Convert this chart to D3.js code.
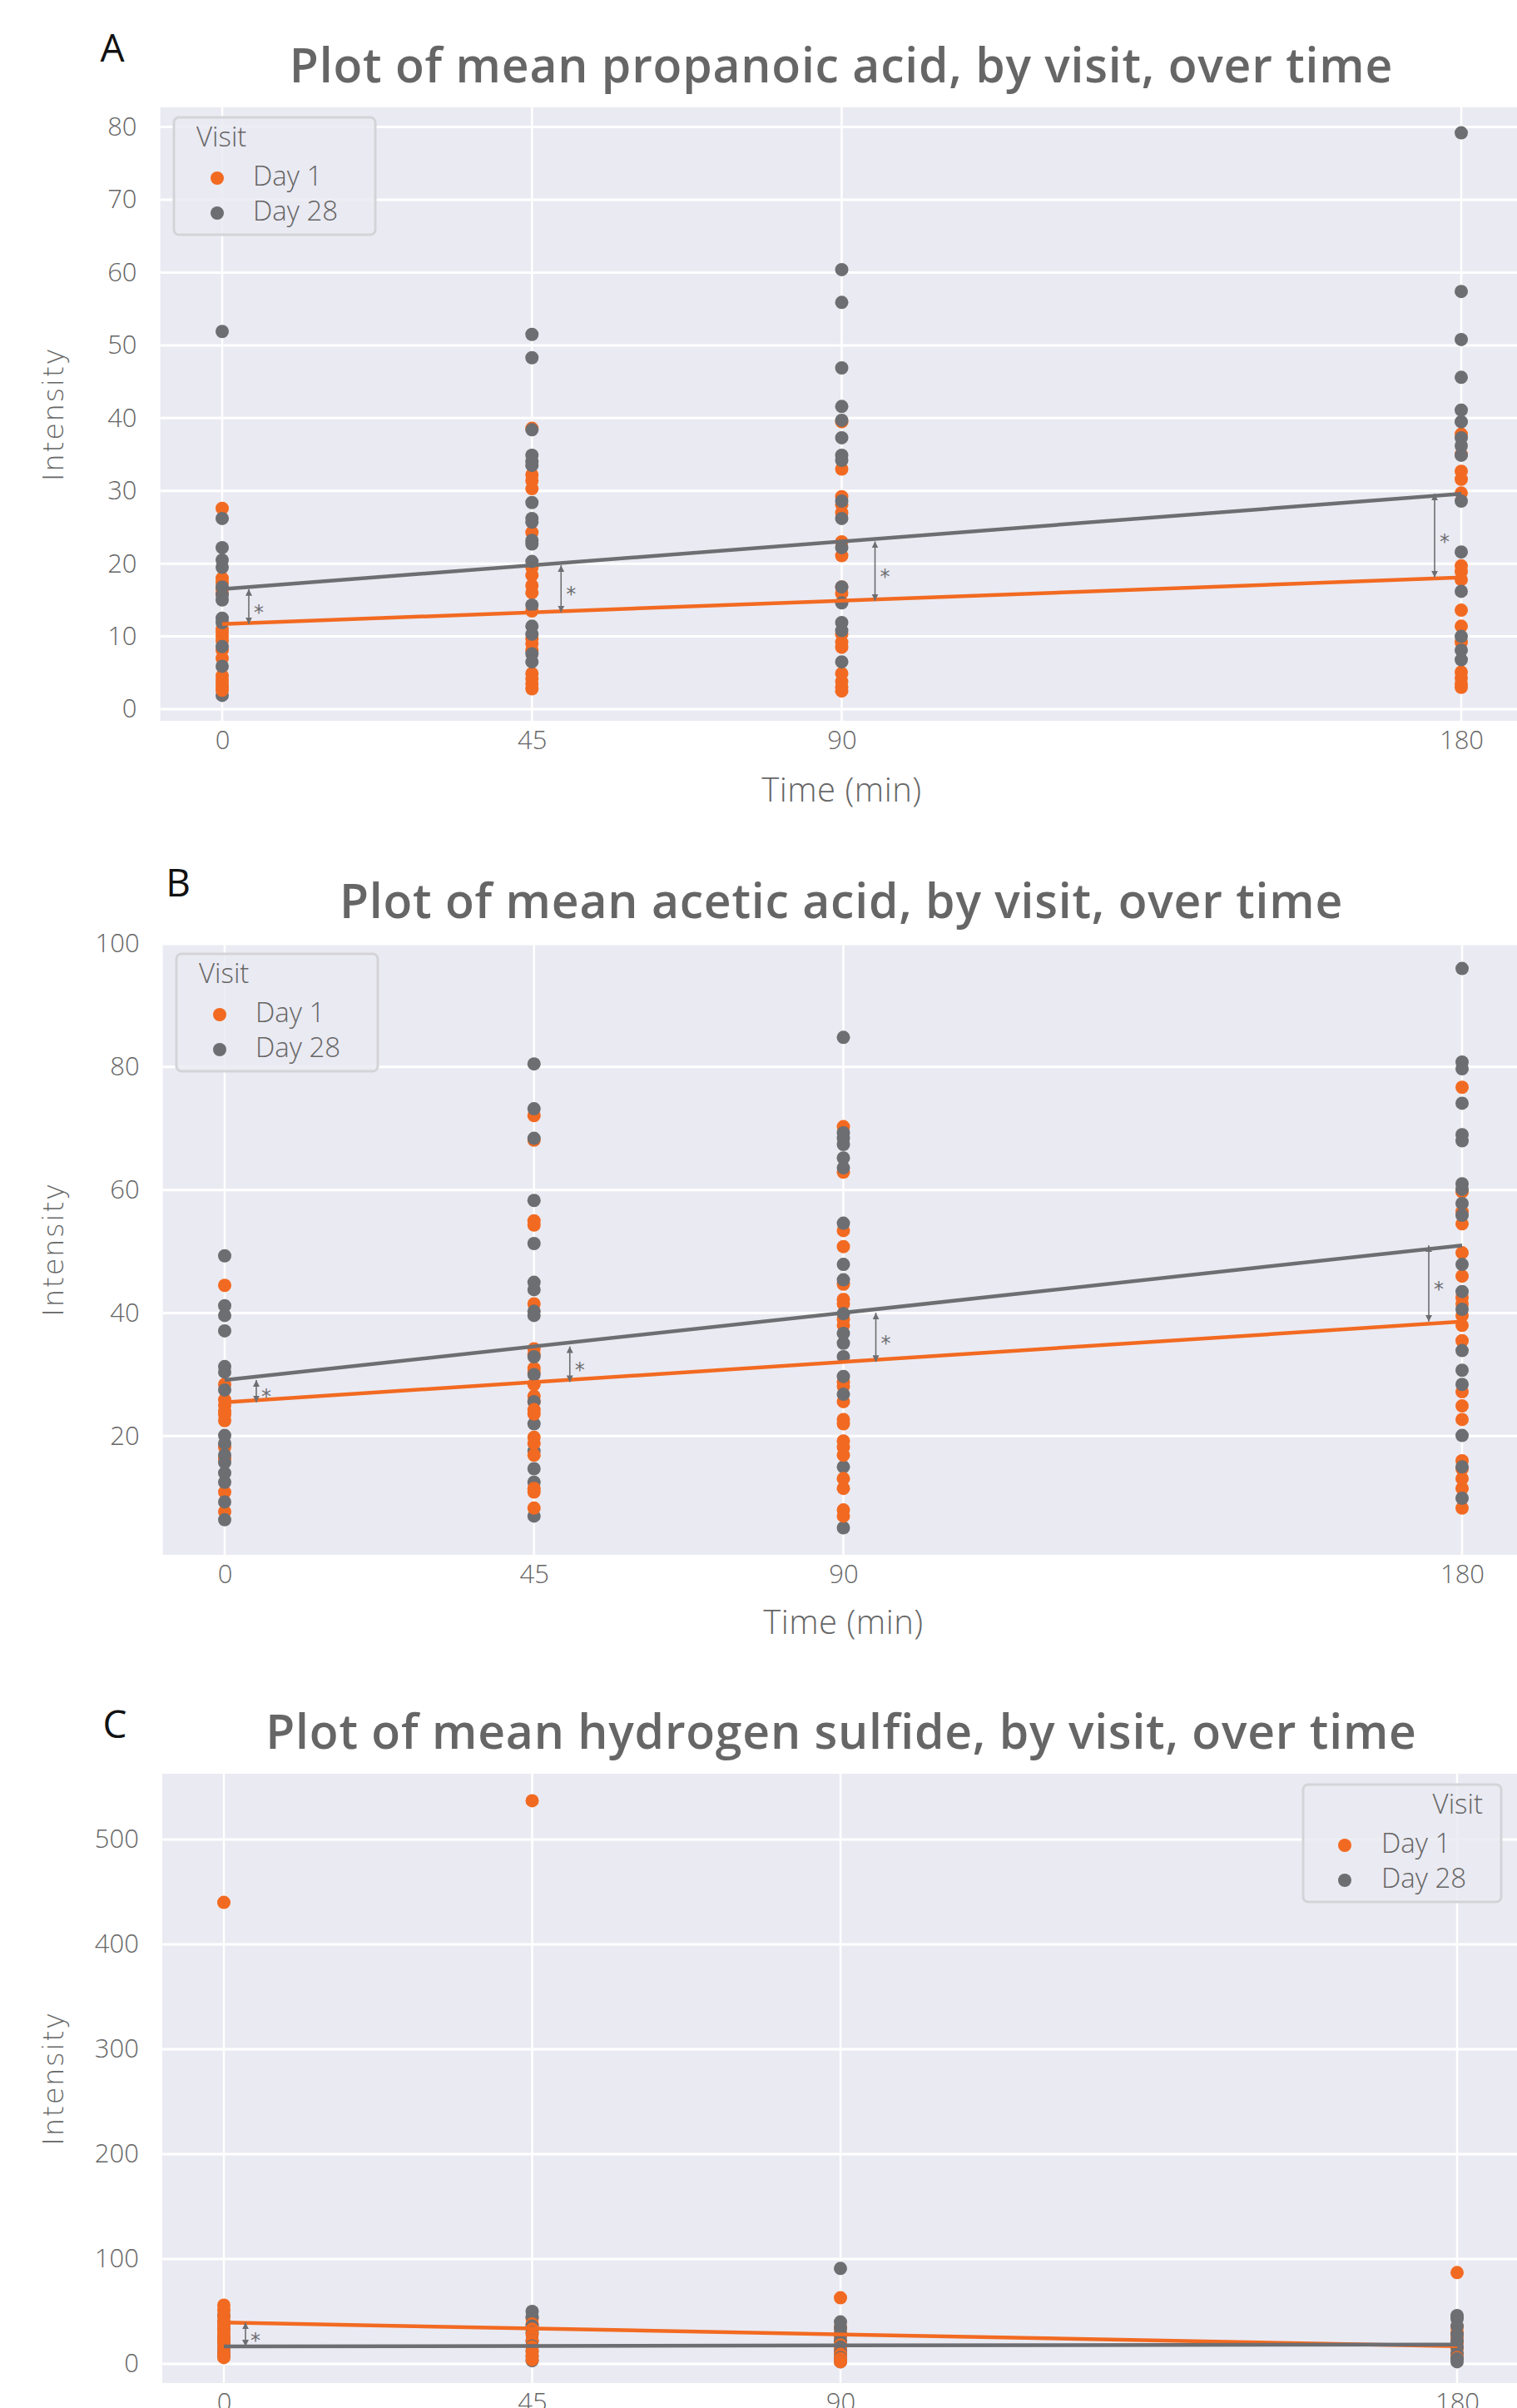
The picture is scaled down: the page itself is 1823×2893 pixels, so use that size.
<!DOCTYPE html>
<html>
<head>
<meta charset="utf-8">
<script src="https://cdn.jsdelivr.net/npm/d3@7"></script>
<style>
  html, body { margin: 0; padding: 0; background: #ffffff; }
  svg { display: block; }
</style>
</head>
<body>
<svg id="chart" width="1823" height="2893"></svg>
<script>
// ---------------- DATA ----------------
const times = [0, 45, 90, 180];
const visits = ["Day 1", "Day 28"];

// Panel A: propanoic acid (values per time point: 0, 45, 90, 180)
const propanoicDay1 = [
  [27.6, 18.0, 17.4, 16.6, 16.0, 11.0, 10.6, 10.0, 9.4, 8.1, 7.0, 4.6, 4.0, 3.5, 3.0, 2.6],
  [38.6, 32.2, 31.4, 30.3, 24.3, 19.5, 18.4, 17.0, 16.0, 13.5, 9.7, 9.0, 8.1, 4.9, 4.2, 3.5, 2.8],
  [39.5, 33.0, 29.2, 28.1, 27.0, 23.0, 21.1, 16.8, 15.9, 10.3, 9.2, 8.5, 4.9, 3.8, 3.0, 2.5],
  [37.8, 35.0, 32.7, 31.6, 29.7, 19.7, 18.9, 17.8, 13.6, 11.4, 9.2, 5.1, 4.3, 3.5, 3.0]
];
const propanoicDay28 = [
  [51.9, 26.2, 22.2, 20.5, 19.5, 16.8, 15.7, 15.0, 12.5, 11.9, 8.6, 5.9, 1.9],
  [51.5, 48.3, 38.4, 34.9, 34.0, 33.5, 28.4, 26.2, 25.7, 23.2, 22.7, 20.3, 14.3, 11.4, 10.3, 7.6, 6.5],
  [60.4, 55.9, 46.9, 41.6, 39.7, 37.3, 34.9, 34.2, 28.6, 26.2, 22.2, 16.8, 14.6, 11.9, 10.8, 6.5],
  [79.2, 57.4, 50.8, 45.6, 41.1, 39.5, 37.3, 36.2, 34.9, 28.6, 21.6, 16.2, 10.0, 8.1, 6.8]
];
const propanoicFitDay1 = [11.7, 18.1];   // fitted value at t=0 and t=180
const propanoicFitDay28 = [16.5, 29.6];
const propanoicSigTimes = [0, 45, 90, 180];
const propanoicTicks = [0, 10, 20, 30, 40, 50, 60, 70, 80];

// Panel B: acetic acid
const aceticDay1 = [
  [44.5, 28.4, 25.9, 25.0, 24.0, 23.5, 22.5, 18.2, 16.3, 10.9, 7.7],
  [72.1, 68.1, 55.0, 54.3, 41.5, 34.2, 33.2, 31.0, 30.4, 28.4, 26.5, 25.6, 24.3, 23.6, 19.8, 18.8, 16.9, 11.5, 10.9, 8.3],
  [70.3, 62.9, 53.4, 50.8, 44.7, 42.2, 41.5, 39.0, 38.0, 28.8, 28.1, 25.6, 22.7, 22.0, 19.2, 18.2, 16.9, 13.1, 11.5, 8.0, 7.0],
  [76.7, 59.7, 56.5, 54.5, 49.8, 46.0, 42.5, 41.5, 39.6, 38.0, 35.5, 27.2, 24.9, 22.7, 16.0, 14.7, 13.1, 11.5, 8.3]
];
const aceticDay28 = [
  [49.3, 41.2, 39.6, 37.1, 31.3, 30.4, 27.5, 20.1, 18.8, 16.9, 15.7, 14.0, 12.5, 9.3, 6.4],
  [80.5, 73.2, 68.4, 58.3, 51.3, 45.0, 43.8, 40.3, 39.6, 32.9, 30.0, 25.6, 22.0, 17.6, 14.7, 12.5, 7.0],
  [84.8, 69.3, 68.4, 67.4, 65.2, 63.6, 54.6, 47.9, 45.4, 39.9, 36.7, 35.1, 32.9, 29.7, 26.8, 15.0, 5.1],
  [96.0, 80.8, 79.7, 74.1, 69.0, 68.0, 61.0, 60.1, 57.8, 55.9, 47.9, 43.5, 40.6, 33.9, 30.7, 28.4, 20.1, 15.0, 9.9]
];
const aceticFitDay1 = [25.5, 38.6];
const aceticFitDay28 = [29.1, 51.0];
const aceticSigTimes = [0, 45, 90, 180];
const aceticTicks = [20, 40, 60, 80, 100];

// Panel C: hydrogen sulfide
const sulfideDay1 = [
  [440, 56, 51, 45, 40, 36, 32, 28, 24, 20, 15, 10, 6],
  [537, 43, 38, 33, 28, 22, 16, 12, 8, 4],
  [63, 35, 30, 26, 22, 18, 13, 9, 5, 2],
  [87, 35, 30, 25, 20, 15, 10, 6]
];
const sulfideDay28 = [
  [46, 40, 33, 25, 20, 15, 11, 7],
  [50, 45, 36, 30, 22, 17, 12, 7, 3],
  [91, 40, 34, 28, 22, 16, 11, 6, 2],
  [46, 43, 36, 28, 22, 16, 10, 5, 2]
];
const sulfideFitDay1 = [39.4, 16.8];
const sulfideFitDay28 = [16.6, 18.5];
const sulfideSigTimes = [0];
const sulfideTicks = [0, 100, 200, 300, 400, 500];

const panelLetters = ["A", "B", "C"];
const panelTitles = [
  "Plot of mean propanoic acid, by visit, over time",
  "Plot of mean acetic acid, by visit, over time",
  "Plot of mean hydrogen sulfide, by visit, over time"
];
const xLabel = "Time (min)";
const yLabel = "Intensity";
const legendTitle = "Visit";

// ---------------- STYLE / LAYOUT ----------------
const COLORS = { "Day 1": "#F26A21", "Day 28": "#6D6E71" };
const FONT = "'Open Sans', Lato, sans-serif";
const TEXT_GRAY = "#666666";

const panels = [
  {
    d1: propanoicDay1, d28: propanoicDay28, fit1: propanoicFitDay1, fit28: propanoicFitDay28,
    sig: propanoicSigTimes, ticks: propanoicTicks,
    xRange: [267, 1756], yDomain: [-1.6, 82.7], yRange: [866, 129],
    letter: [135, 62], titleY: 84, xLabelY: 952, legend: { x: 209, y: 141, align: "left" },
    sigOffset: [32, 35, 40, -32]
  },
  {
    d1: aceticDay1, d28: aceticDay28, fit1: aceticFitDay1, fit28: aceticFitDay28,
    sig: aceticSigTimes, ticks: aceticTicks,
    xRange: [270, 1757], yDomain: [0.7, 100], yRange: [1868, 1134],
    letter: [214, 1065], titleY: 1088, xLabelY: 1952, legend: { x: 212, y: 1146, align: "left" },
    sigOffset: [38, 43, 39, -40]
  },
  {
    d1: sulfideDay1, d28: sulfideDay28, fit1: sulfideFitDay1, fit28: sulfideFitDay28,
    sig: sulfideSigTimes, ticks: sulfideTicks,
    xRange: [269, 1751], yDomain: [-18.3, 562.7], yRange: [2863, 2131],
    letter: [138, 2076], titleY: 2086, xLabelY: null, legend: { x: 1566, y: 2144, align: "right" },
    sigOffset: [26]
  }
];

const svg = d3.select("#chart");
svg.append("rect").attr("width", 1823).attr("height", 2893).attr("fill", "#ffffff");

// arrow marker definitions
const defs = svg.append("defs");
["start", "end"].forEach(kind => {
  defs.append("marker")
    .attr("id", "arrow-" + kind)
    .attr("viewBox", "0 0 10 10")
    .attr("refX", kind === "end" ? 10 : 0).attr("refY", 5)
    .attr("markerWidth", 5).attr("markerHeight", 5)
    .attr("markerUnits", "strokeWidth")
    .attr("orient", "auto")
    .append("path")
    .attr("d", kind === "end" ? "M0,0 L10,5 L0,10 z" : "M10,0 L0,5 L10,10 z")
    .attr("fill", "#6D6E71");
});

panels.forEach((p, i) => {
  const g = svg.append("g");
  const x = d3.scaleLinear().domain([0, 180]).range(p.xRange);
  const y = d3.scaleLinear().domain(p.yDomain).range(p.yRange);

  const left = x(-9), right = x(189);
  const top = p.yRange[1], bottom = p.yRange[0];

  // plot background
  g.append("rect").attr("x", left).attr("y", top)
    .attr("width", right - left).attr("height", bottom - top)
    .attr("fill", "#EAEAF2");

  // grid lines
  g.selectAll(".hgrid").data(p.ticks).join("line")
    .attr("x1", left).attr("x2", right)
    .attr("y1", d => y(d)).attr("y2", d => y(d))
    .attr("stroke", "#ffffff").attr("stroke-width", 3);
  g.selectAll(".vgrid").data(times).join("line")
    .attr("x1", d => x(d)).attr("x2", d => x(d))
    .attr("y1", top).attr("y2", bottom)
    .attr("stroke", "#ffffff").attr("stroke-width", 2.5);

  // axes (tick labels only)
  const yAxis = d3.axisLeft(y).tickValues(p.ticks).tickSize(0).tickPadding(0).tickFormat(d3.format("d"));
  const ya = g.append("g").attr("transform", `translate(${left - 28},0)`).call(yAxis);
  ya.select(".domain").remove();
  ya.selectAll("text").attr("font-family", FONT).attr("font-size", 31)
    .attr("fill", TEXT_GRAY).attr("font-weight", 300);

  const xAxis = d3.axisBottom(x).tickValues(times).tickSize(0).tickPadding(0).tickFormat(d3.format("d"));
  const xa = g.append("g").attr("transform", `translate(0,${bottom + 11})`).call(xAxis);
  xa.select(".domain").remove();
  xa.selectAll("text").attr("font-family", FONT).attr("font-size", 31)
    .attr("fill", TEXT_GRAY).attr("font-weight", 300).attr("dy", "0.75em");

  // axis labels
  if (p.xLabelY !== null) {
    g.append("text").attr("x", x(90)).attr("y", p.xLabelY)
      .attr("text-anchor", "middle").attr("dominant-baseline", "middle")
      .attr("font-family", FONT).attr("font-size", 40).attr("font-weight", 300)
      .attr("letter-spacing", 0.5)
      .attr("fill", TEXT_GRAY).text(xLabel);
  }
  g.append("text")
    .attr("transform", `translate(66,${(top + bottom) / 2}) rotate(-90)`)
    .attr("text-anchor", "middle").attr("dominant-baseline", "middle")
    .attr("font-family", "'DejaVu Sans', sans-serif").attr("font-size", 34).attr("font-weight", 300)
    .attr("letter-spacing", 1.5)
    .attr("fill", TEXT_GRAY).text(yLabel);

  // title & panel letter
  g.append("text").attr("x", 1011).attr("y", p.titleY)
    .attr("text-anchor", "middle").attr("dominant-baseline", "middle")
    .attr("font-family", FONT).attr("font-size", 57).attr("font-weight", 600)
    .attr("letter-spacing", 0.8)
    .attr("fill", TEXT_GRAY).text(panelTitles[i]);
  g.append("text").attr("x", p.letter[0]).attr("y", p.letter[1])
    .attr("text-anchor", "middle").attr("dominant-baseline", "middle")
    .attr("font-family", FONT).attr("font-size", 46).attr("font-weight", 400)
    .attr("fill", "#111111").text(panelLetters[i]);

  // points
  const pts = [];
  times.forEach((t, ti) => {
    const n = Math.max(p.d1[ti].length, p.d28[ti].length);
    for (let k = 0; k < n; k++) {
      if (k < p.d1[ti].length) pts.push({ t, v: p.d1[ti][k], visit: "Day 1" });
      if (k < p.d28[ti].length) pts.push({ t, v: p.d28[ti][k], visit: "Day 28" });
    }
  });
  g.selectAll(".pt").data(pts).join("circle")
    .attr("cx", d => x(d.t)).attr("cy", d => y(d.v)).attr("r", 8)
    .attr("fill", d => COLORS[d.visit]);

  // fitted lines
  const line = d3.line().x(d => x(d[0])).y(d => y(d[1]));
  [["Day 1", p.fit1], ["Day 28", p.fit28]].forEach(([visit, f]) => {
    g.append("path").datum([[0, f[0]], [180, f[1]]])
      .attr("d", line).attr("fill", "none")
      .attr("stroke", COLORS[visit]).attr("stroke-width", 4.5);
  });

  // significance arrows
  const fitAt = (f, t) => f[0] + (f[1] - f[0]) * t / 180;
  p.sig.forEach((t, si) => {
    const off = p.sigOffset[si];
    const xx = x(t) + off;
    const yA = y(fitAt(p.fit28, t)), yB = y(fitAt(p.fit1, t));
    g.append("line").attr("x1", xx).attr("x2", xx).attr("y1", yA).attr("y2", yB)
      .attr("stroke", "#6D6E71").attr("stroke-width", 1.6)
      .attr("marker-start", "url(#arrow-start)").attr("marker-end", "url(#arrow-end)");
    g.append("text").attr("x", xx + 12).attr("y", (yA + yB) / 2 + 8)
      .attr("text-anchor", "middle").attr("dominant-baseline", "middle")
      .attr("font-family", "'DejaVu Sans', sans-serif").attr("font-size", 24).attr("fill", "#6D6E71").text("*");
  });

  // legend
  const L = p.legend;
  const lw = L.align === "left" ? 242 : 238, lh = 141;
  const lg = g.append("g").attr("transform", `translate(${L.x},${L.y})`);
  lg.append("rect").attr("width", lw).attr("height", lh).attr("rx", 6)
    .attr("fill", "#EAEAF2").attr("fill-opacity", 0.85)
    .attr("stroke", "#D3D3D8").attr("stroke-width", 3);
  const titleX = L.align === "left" ? 27 : lw - 22;
  lg.append("text").attr("x", titleX).attr("y", 26)
    .attr("text-anchor", L.align === "left" ? "start" : "end").attr("dominant-baseline", "middle")
    .attr("font-family", FONT).attr("font-size", 33).attr("font-weight", 300)
    .attr("fill", TEXT_GRAY).text(legendTitle);
  const mx = L.align === "left" ? 52 : 50, tx = L.align === "left" ? 95 : 94;
  visits.forEach((v, vi) => {
    const yy = 73 + vi * 42;
    lg.append("circle").attr("cx", mx).attr("cy", yy).attr("r", 8).attr("fill", COLORS[v]);
    lg.append("text").attr("x", tx).attr("y", yy)
      .attr("dominant-baseline", "middle")
      .attr("font-family", FONT).attr("font-size", 33).attr("font-weight", 300)
      .attr("fill", TEXT_GRAY).text(v);
  });
});
</script>
</body>
</html>
